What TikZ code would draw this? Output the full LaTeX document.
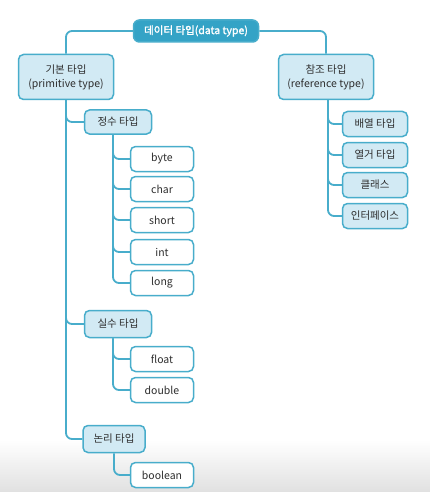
\documentclass[tikz,border=0pt]{standalone}
\usepackage{fontspec}
\usetikzlibrary{backgrounds}
\setmainfont{Noto Sans CJK KR}
\newfontfamily\rootfont{Noto Sans CJK KR}[FakeBold=1.6]
\definecolor{tealc}{HTML}{48ADCB}
\definecolor{rootc}{HTML}{34A3C6}
\definecolor{lightc}{HTML}{D2EAF4}
\definecolor{textc}{HTML}{2E2E2E}
\begin{document}
\begin{tikzpicture}[x=1pt,y=-1pt,
  conn/.style={draw=tealc, line width=1.8pt, rounded corners=6pt},
  boxbase/.style={draw=tealc, line width=1.5pt, rounded corners=5pt, text=textc,
    inner sep=0pt, font=\fontsize{10.5}{14}\selectfont, align=center},
  lbox/.style={boxbase, fill=lightc},
  wbox/.style={boxbase, fill=white, minimum width=63pt, minimum height=25pt},
  rbox/.style={lbox, minimum width=65pt, minimum height=25pt},
  rootbox/.style={draw=tealc, fill=rootc, line width=1.5pt, rounded corners=6pt,
    text=white, inner sep=0pt, minimum width=125pt, minimum height=22pt,
    font=\rootfont\fontsize{10.5}{12}\selectfont}
]
\useasboundingbox (0,0) rectangle (430,492);

% nodes
\node[rootbox] (root) at (196,31) {데이터 타입(data type)};
\node[lbox, minimum width=95pt, minimum height=45pt] (kibon) at (66,77) {기본 타입\\(primitive type)};
\node[lbox, minimum width=95pt, minimum height=45pt] (chamjo) at (326,77) {참조 타입\\(reference type)};

\node[lbox, minimum width=67pt, minimum height=24pt] (jeongsu) at (118,122) {정수 타입};
\node[wbox] (byte) at (162,159) {byte};
\node[wbox] (char) at (162,189) {char};
\node[wbox] (short) at (162,220) {short};
\node[wbox] (int) at (162,252) {int};
\node[wbox] (long) at (162,283) {long};

\node[lbox, minimum width=67pt, minimum height=27pt] (silsu) at (118,324) {실수 타입};
\node[wbox] (float) at (162,359) {float};
\node[wbox] (double) at (162,390) {double};

\node[lbox, minimum width=62pt, minimum height=27pt] (nonri) at (114,439) {논리 타입};
\node[wbox] (boolean) at (162,475) {boolean};

\node[rbox] (baeyeol) at (375,124) {배열 타입};
\node[rbox] (yeolgeo) at (375,155) {열거 타입};
\node[rbox] (klass) at (375,185) {클래스};
\node[rbox] (inter) at (375,216) {인터페이스};

\coordinate (js) at ([xshift=-5pt]jeongsu.south);
\coordinate (ss) at ([xshift=-5pt]silsu.south);
\coordinate (cj) at ([xshift=2pt]chamjo.south);

% connectors
\begin{scope}[on background layer]
\fill[white] (0,0) rectangle (430,492);
\shade[top color=white, bottom color=black!12] (0,440) rectangle (430,492);
\path[conn] (root.west) -| (kibon.north);
\path[conn] (root.east) -| (chamjo.north);
\path[conn] (kibon.south) |- (jeongsu.west);
\path[conn] (kibon.south) |- (silsu.west);
\path[conn] (kibon.south) |- (nonri.west);
\foreach \n in {byte,char,short,int,long}{
  \path[conn] (js) |- (\n.west);
}
\foreach \n in {float,double}{
  \path[conn] (ss) |- (\n.west);
}
\path[conn] (nonri.south) |- (boolean.west);
\foreach \n in {baeyeol,yeolgeo,klass,inter}{
  \path[conn] (cj) |- (\n.west);
}
\end{scope}
\end{tikzpicture}
\end{document}
